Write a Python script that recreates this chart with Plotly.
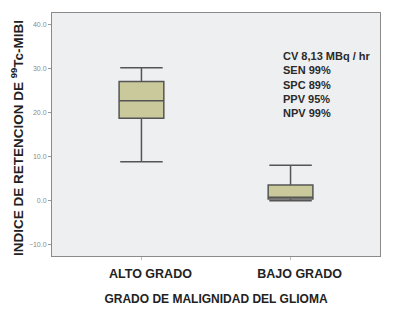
import plotly.graph_objects as go

categories = ["ALTO GRADO", "BAJO GRADO"]
lower_whisker = [8.8, -0.1]
q1_vals = [18.7, 0.3]
median_vals = [22.7, 0.7]
q3_vals = [27.1, 3.5]
upper_whisker = [30.2, 8.0]
y_ticks = [-10, 0, 10, 20, 30, 40]
stats_lines = ["CV 8,13 MBq / hr", "SEN 99%", "SPC 89%", "PPV 95%", "NPV 99%"]

FONT = "Liberation Sans, Arial, sans-serif"

fig = go.Figure()
fig.add_trace(go.Box(
    x=categories,
    q1=q1_vals, median=median_vals, q3=q3_vals,
    lowerfence=lower_whisker, upperfence=upper_whisker,
    fillcolor="#c9c99b",
    line=dict(color="#555555", width=1.5),
    whiskerwidth=0.95,
    width=0.3,
    boxpoints=False,
    hoverinfo="skip",
    showlegend=False,
))

fig.update_layout(
    width=399, height=315,
    margin=dict(l=52, r=19, t=13, b=59),
    paper_bgcolor="white",
    plot_bgcolor="#eeeff1",
    font=dict(family=FONT, color="#222222"),
    xaxis=dict(
        type="category",
        range=[-0.6, 1.6],
        automargin=False,
        showgrid=False, zeroline=False,
        showline=True, linecolor="#8a8a8a", linewidth=1, mirror=True,
        ticks="outside", ticklen=3, tickcolor="#bbbbbb",
        tickfont=dict(family=FONT, size=12.5, color="#222222", weight="bold"),
        ticklabelshift=9,
        ticklabelstandoff=3,
        title=dict(text="<b>GRADO DE MALIGNIDAD DEL GLIOMA</b>",
                   font=dict(family=FONT, size=12, color="#222222"),
                   standoff=14),
    ),
    yaxis=dict(
        range=[-12.7, 42.7],
        automargin=False,
        tickvals=y_ticks,
        tickformat=".1f",
        showgrid=False, zeroline=False,
        showline=True, linecolor="#8a8a8a", linewidth=1, mirror=True,
        ticks="outside", ticklen=3, tickcolor="#999999",
        tickfont=dict(family=FONT, size=7, color="#8a8a8a"),
    ),
)

fig.add_annotation(
    xref="paper", yref="paper",
    x=(17 - 52) / 328, y=(256 - 138) / 243,
    text="<b>INDICE DE RETENCION DE <sup>99</sup>Tc-MIBI</b>",
    textangle=-90, showarrow=False,
    font=dict(family=FONT, size=13.5, color="#222222"),
    xanchor="center", yanchor="middle",
)

fig.add_annotation(
    xref="paper", yref="paper",
    x=(281 - 52) / 328, y=(256 - 48) / 243,
    text="<br>".join("<b>" + s + "</b>" for s in stats_lines),
    showarrow=False, align="left",
    font=dict(family=FONT, size=11, color="#2a2a2a"),
    xanchor="left", yanchor="top",
)

fig.write_html("out.html", config={"displayModeBar": False},
               post_script="document.body.style.margin='0';")
